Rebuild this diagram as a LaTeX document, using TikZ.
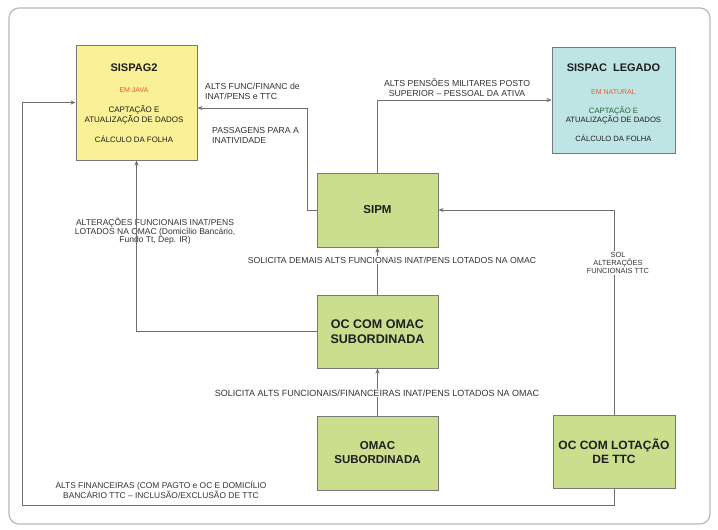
\documentclass[tikz,border=0pt]{standalone}
\usepackage{fontspec}
\setmainfont{Liberation Sans}
\usetikzlibrary{arrows.meta}
\definecolor{boxyellow}{RGB}{250,240,150}
\definecolor{boxcyan}{RGB}{190,228,228}
\definecolor{boxgreen}{RGB}{202,222,142}
\definecolor{edgegray}{RGB}{120,120,120}
\definecolor{linegray}{RGB}{110,110,110}
\definecolor{redtxt}{RGB}{235,90,50}
\definecolor{greentxt}{RGB}{40,100,60}
\definecolor{txtdark}{RGB}{30,30,30}
\begin{document}
\begin{tikzpicture}[x=1pt,y=-1pt,
  box/.style={draw=edgegray, line width=1pt, inner sep=0pt, minimum width=121pt},
  title/.style={font=\fontsize{11}{13}\selectfont\bfseries, text=txtdark, align=center, inner sep=0pt},
  inbox/.style={font=\fontsize{7.8}{9}\selectfont, text=txtdark, align=center, inner sep=0pt},
  conn/.style={draw=linegray, line width=0.8pt},
  arr/.style={conn, -{Stealth[length=5pt,width=4pt]}},
  lbl/.style={font=\fontsize{8.7}{10}\selectfont, text=black!80, align=center, inner sep=1pt}
]
\useasboundingbox (0,0) rectangle (718,530);
\fill[white] (0,0) rectangle (718,530);
\draw[gray!55, line width=1.2pt, rounded corners=10pt] (9,8) rectangle (710,524);

% boxes
\node[box, fill=boxyellow, minimum height=115pt] (sispag) at (136.5,102.5) {};
\node[box, fill=boxcyan, minimum width=123pt, minimum height=106pt] (sispac) at (613.5,100) {};
\node[box, fill=boxgreen, minimum height=74pt] (sipm) at (377.5,210) {};
\node[box, fill=boxgreen, minimum height=73pt] (ocomac) at (377.5,331.5) {};
\node[box, fill=boxgreen, minimum height=74pt] (omac) at (377.5,453) {};
\node[box, fill=boxgreen, minimum width=122pt, minimum height=73pt] (lot) at (614,451.5) {};

% box texts
\node[title] (t1) at (134,68) {SISPAG2};
\node[inbox, text=redtxt, font=\fontsize{7}{8}\selectfont] (t1r) at (134,90) {EM JAVA};
\node[inbox, font=\fontsize{8}{9.5}\selectfont] (t1a) at (134,115) {CAPTAÇÃO E\\ATUALIZAÇÃO DE DADOS};
\node[inbox] (t1b) at (134,139) {CÁLCULO DA FOLHA};

\node[title] (t2) at (613.5,68) {SISPAC\ \ LEGADO};
\node[inbox, text=redtxt, font=\fontsize{7}{8}\selectfont] (t2r) at (613.5,92) {EM NATURAL};
\node[inbox, font=\fontsize{7.7}{9}\selectfont] (t2a) at (613.5,115) {{\color{greentxt}CAPTAÇÃO E}\\ATUALIZAÇÃO DE DADOS};
\node[inbox, font=\fontsize{7.6}{9}\selectfont] (t2b) at (613.5,138) {CÁLCULO DA FOLHA};

\node[title, font=\fontsize{11.5}{13}\selectfont\bfseries] (t3) at (sipm) {SIPM};
\node[title, font=\fontsize{12.5}{15}\selectfont\bfseries] (t4) at (ocomac) {OC COM OMAC\\SUBORDINADA};
\node[title, font=\fontsize{11.5}{14}\selectfont\bfseries] (t5) at (omac) {OMAC\\SUBORDINADA};
\node[title, font=\fontsize{12}{14}\selectfont\bfseries] (t6) at (lot) {OC COM LOTAÇÃO\\DE TTC};

% label crossed by the connector line in the reference
\node[lbl, font=\fontsize{8.5}{8}\selectfont] (l4) at (155,231) {ALTERAÇÕES FUNCIONAIS INAT/PENS\\LOTADOS NA OMAC (Domicílio Bancário,\\Fundo Tt, Dep. IR)};

% connectors
\coordinate (c1) at (307,210);
\coordinate (c2) at (22,505);
\draw[arr] (sipm.north) |- (sispac.west);
\draw[arr] (sipm.west) -- (c1) |- ([yshift=-5.5pt]sispag.east);
\draw[arr] (ocomac.west) -| (sispag.south);
\draw[arr] (ocomac.north) -- (sipm.south);
\draw[arr] (omac.north) -- (ocomac.south);
\draw[arr] (lot.north) |- (sipm.east);
\draw[arr] (lot.south) |- (c2) |- (sispag.west);

% labels
\node[lbl] (l1) at (457,88) {ALTS PENSÕES MILITARES POSTO\\SUPERIOR – PESSOAL DA ATIVA};
\node[lbl, align=left, anchor=west] (l2) at (204,91) {ALTS FUNC/FINANC de\\INAT/PENS e TTC};
\node[lbl, align=left, anchor=west] (l3) at (211,135) {PASSAGENS PARA A\\INATIVIDADE};
\node[lbl, fill=white] (l5) at (392,260) {SOLICITA DEMAIS ALTS FUNCIONAIS INAT/PENS LOTADOS NA OMAC};
\node[lbl, fill=white, font=\fontsize{9}{10}\selectfont] (l6) at (377,393) {SOLICITA ALTS FUNCIONAIS/FINANCEIRAS INAT/PENS LOTADOS NA OMAC};
\node[lbl, fill=white, font=\fontsize{7.4}{8}\selectfont] (l7) at (618,263) {SOL\\ALTERAÇÕES\\FUNCIONAIS TTC};
\node[lbl, font=\fontsize{8.4}{9}\selectfont] (l8) at (161,490) {ALTS FINANCEIRAS (COM PAGTO e OC E DOMICÍLIO\\BANCÁRIO TTC – INCLUSÃO/EXCLUSÃO DE TTC};
\end{tikzpicture}
\end{document}
